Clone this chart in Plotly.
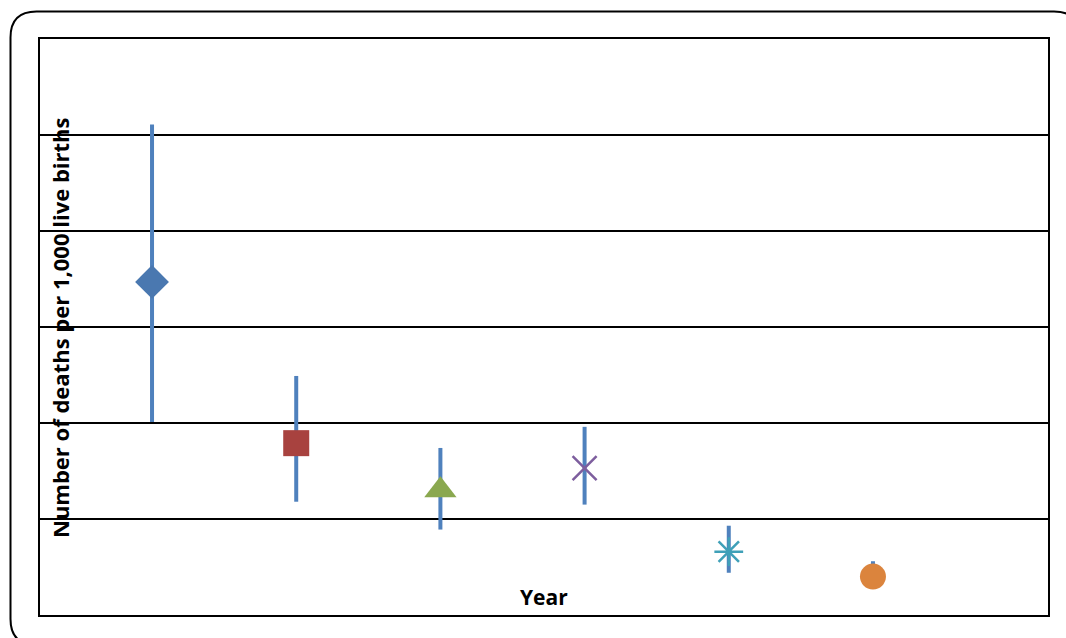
import plotly.graph_objects as go

# Rates (deaths per 1,000 live births) with asymmetric interval bounds
positions = [0, 1, 2, 3, 4, 5]
rates = [34.7, 17.9, 13.0, 15.3, 6.6, 4.0]
upper = [51.1, 24.9, 17.4, 19.6, 9.3, 5.6]
lower = [20.1, 11.8, 8.9, 11.5, 4.4, 3.0]

symbols = ["diamond", "square", "triangle-up", "x-thin-open", "asterisk-open", "circle"]
colors = ["#4A78B0", "#A8423F", "#8AA84F", "#7D5E9E", "#3FA0B8", "#DB843D"]
sizes = [26, 26, 28, 24, 24, 26]

W, H = 1066, 638
L, R, T, B = 40, 18, 39, 23

fig = go.Figure()
for i in range(len(positions)):
    is_line_symbol = symbols[i].endswith("-open")
    fig.add_trace(go.Scatter(
        x=[positions[i]],
        y=[rates[i]],
        mode="markers",
        marker=dict(
            symbol=symbols[i],
            size=sizes[i],
            color=colors[i],
            line=dict(width=2.5 if is_line_symbol else 0, color=colors[i]),
        ),
        error_y=dict(
            type="data",
            symmetric=False,
            array=[upper[i] - rates[i]],
            arrayminus=[rates[i] - lower[i]],
            color="#4F81BD",
            thickness=4,
            width=0,
        ),
        showlegend=False,
        hoverinfo="skip",
    ))

# Rounded outer frame, expressed in paper coordinates of the plot area
pw, ph = W - L - R, H - T - B


def px(xp):
    return (xp - L) / pw


def py(yp):
    return (H - B - yp) / ph


fl, ft, fr, fb, r = 10.5, 11.5, 1080, 645, 26
frame = (
    f"M {px(fl)},{py(ft + r)} "
    f"Q {px(fl)},{py(ft)} {px(fl + r)},{py(ft)} "
    f"L {px(fr - r)},{py(ft)} "
    f"Q {px(fr)},{py(ft)} {px(fr)},{py(ft + r)} "
    f"L {px(fr)},{py(fb - r)} "
    f"Q {px(fr)},{py(fb)} {px(fr - r)},{py(fb)} "
    f"L {px(fl + r)},{py(fb)} "
    f"Q {px(fl)},{py(fb)} {px(fl)},{py(fb - r)} Z"
)
fig.add_shape(type="path", path=frame, xref="paper", yref="paper",
              line=dict(color="black", width=2), layer="below")

fig.add_annotation(
    text="<b>Number of deaths per 1,000 live births</b>",
    x=px(60), y=py(328), xref="paper", yref="paper",
    xanchor="center", yanchor="middle",
    textangle=-90, showarrow=False,
    font=dict(family="Open Sans", size=22, color="black"),
)
fig.add_annotation(
    text="<b>Year</b>",
    x=px(544), y=py(597), xref="paper", yref="paper",
    xanchor="center", yanchor="middle",
    showarrow=False,
    font=dict(family="Open Sans", size=21, color="black"),
)

fig.update_layout(
    width=W, height=H,
    margin=dict(l=L, r=R, t=T, b=B),
    paper_bgcolor="white",
    plot_bgcolor="white",
    xaxis=dict(
        range=[-0.777, 6.214],
        showgrid=False, zeroline=False, showticklabels=False, ticks="",
        showline=True, mirror=True, linecolor="black", linewidth=2,
    ),
    yaxis=dict(
        range=[0, 60], dtick=10,
        showgrid=True, gridcolor="black", gridwidth=2,
        zeroline=False, showticklabels=False, ticks="",
        showline=True, mirror=True, linecolor="black", linewidth=2,
    ),
)

fig.write_html("out.html")
